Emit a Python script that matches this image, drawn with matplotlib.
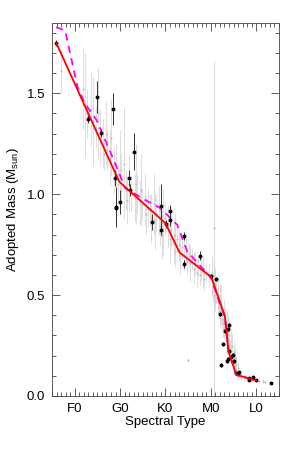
import numpy as np
import matplotlib
matplotlib.use('Agg')
import matplotlib.pyplot as plt
from matplotlib.ticker import MultipleLocator, FixedLocator

plt.rcParams['font.family'] = ['Liberation Sans', 'DejaVu Sans']

# spectral type as number: F0=20, G0=30, K0=40, M0=50, L0=60
tick_pos = [20, 30, 40, 50, 60]
tick_lab = ['F0', 'G0', 'K0', 'M0', 'L0']

# black points (spectral type, mass, error)
spt_b = [15.9, 23.0, 24.9, 25.9, 28.5, 28.9, 29.0, 29.1, 30.0, 32.0, 32.1, 33.0,
         37.1, 39.1, 40.1, 41.1, 41.1, 39.1, 44.1, 44.0, 47.6, 50.1, 51.1, 52.1,
         53.1, 53.7, 54.1, 52.7, 52.2, 54.1, 53.7, 54.4, 53.6, 54.9, 55.2, 55.6,
         55.9, 56.1, 58.3, 59.2, 58.3, 60.0, 63.2]
mass_b = [1.751, 1.373, 1.48, 1.302, 1.422, 1.082, 0.936, 0.93, 0.96, 1.079, 1.021, 1.211,
          0.864, 0.94, 0.853, 0.916, 0.87, 0.82, 0.794, 0.653, 0.696, 0.592, 0.579, 0.406,
          0.323, 0.332, 0.35, 0.257, 0.155, 0.221, 0.183, 0.191, 0.175, 0.204, 0.171, 0.114,
          0.109, 0.117, 0.079, 0.092, 0.09, 0.077, 0.062]
err_b = [0.015, 0.02, 0.08, 0.02, 0.08, 0.04, 0.10, 0.06, 0.06, 0.04, 0.03, 0.09,
         0.04, 0.11, 0.02, 0.03, 0.03, 0.02, 0.02, 0.02, 0.02, 0.01, 0.01, 0.01,
         0.01, 0.01, 0.01, 0.01, 0.01, 0.01, 0.01, 0.01, 0.01, 0.01, 0.01, 0.005,
         0.005, 0.005, 0.005, 0.005, 0.005, 0.005, 0.003]

# grey points
spt_g = [17.0, 21.8, 22.3, 22.8, 23.5, 24.1, 24.6, 25.2, 25.6, 26.2, 26.5, 26.8, 27.2,
         27.7, 28.1, 28.6, 29.2, 29.6, 29.9, 30.3, 30.8, 31.3, 31.6, 31.9, 32.5, 33.2,
         33.5, 33.8, 34.3, 34.6, 34.9, 35.5, 35.8, 36.1, 36.6, 36.9, 37.4, 37.8, 38.0,
         38.5, 38.7, 39.0, 39.2, 39.5, 40.0, 40.6, 41.0, 41.3, 41.8, 42.0, 42.2, 42.5,
         43.0, 43.2, 43.6, 44.0, 44.5, 44.8, 45.0, 45.2, 45.5, 45.8, 46.2, 46.5, 47.0,
         47.1, 47.5, 47.8, 48.3, 48.5, 49.0, 49.6, 50.8, 50.2, 50.3, 50.5, 50.7, 50.9,
         51.0, 51.2, 51.5, 51.6, 51.8, 52.0, 52.1, 52.3, 52.4, 52.7, 52.9, 53.0, 53.2,
         53.3, 53.5, 53.6, 53.8, 53.9, 54.1, 54.2, 54.4, 54.5, 54.7, 54.8, 55.0, 55.1,
         55.3, 55.5, 55.6, 55.9, 56.0, 56.6, 57.2, 58.0, 59.0, 60.5, 61.5, 62.0]
mass_g = [1.61, 1.52, 1.44, 1.40, 1.42, 1.36, 1.33, 1.40, 1.28, 1.25, 1.20, 1.30, 1.22,
          1.18, 1.28, 1.12, 1.10, 1.05, 1.12, 1.08, 1.15, 1.02, 0.97, 1.05, 1.00, 0.98,
          1.05, 1.00, 0.96, 1.02, 0.95, 0.97, 0.90, 0.93, 0.92, 0.88, 0.95, 0.87, 0.90,
          0.92, 0.84, 0.89, 0.80, 0.86, 0.88, 0.84, 0.78, 0.82, 0.76, 0.80, 0.72, 0.78,
          0.75, 0.70, 0.74, 0.70, 0.72, 0.67, 0.18, 0.70, 0.66, 0.68, 0.63, 0.66, 0.61,
          0.64, 0.60, 0.63, 0.62, 0.58, 0.61, 0.60, 0.83, 0.57, 0.60, 0.54, 0.56, 0.50,
          0.55, 0.52, 0.47, 0.50, 0.44, 0.47, 0.42, 0.45, 0.38, 0.36, 0.40, 0.33, 0.37,
          0.30, 0.34, 0.27, 0.32, 0.25, 0.30, 0.22, 0.27, 0.20, 0.25, 0.17, 0.22, 0.15,
          0.19, 0.13, 0.16, 0.14, 0.11, 0.10, 0.09, 0.085, 0.08, 0.075, 0.072, 0.07]
err_g = [0.11, 0.20, 0.26, 0.12, 0.18, 0.22, 0.10, 0.23, 0.14, 0.12, 0.08, 0.16, 0.10,
         0.14, 0.19, 0.12, 0.15, 0.10, 0.20, 0.12, 0.28, 0.10, 0.12, 0.14, 0.09, 0.12,
         0.20, 0.10, 0.11, 0.18, 0.08, 0.13, 0.10, 0.10, 0.08, 0.12, 0.15, 0.14, 0.09,
         0.12, 0.09, 0.10, 0.12, 0.16, 0.08, 0.10, 0.12, 0.09, 0.10, 0.10, 0.08, 0.07,
         0.08, 0.10, 0.06, 0.08, 0.07, 0.07, 0.01, 0.06, 0.09, 0.05, 0.08, 0.06, 0.07,
         0.05, 0.05, 0.06, 0.08, 0.06, 0.05, 0.06, 0.83, 0.08, 0.10, 0.07, 0.12, 0.08,
         0.09, 0.06, 0.07, 0.10, 0.06, 0.09, 0.08, 0.10, 0.06, 0.07, 0.08, 0.05, 0.07,
         0.06, 0.09, 0.06, 0.08, 0.05, 0.07, 0.05, 0.06, 0.04, 0.06, 0.04, 0.05, 0.03,
         0.05, 0.03, 0.04, 0.03, 0.02, 0.02, 0.02, 0.01, 0.01, 0.01, 0.008, 0.006]

# piecewise relation (red)
spt_fit = [15.9, 29.8, 40.0, 43.1, 50.1, 53.1, 53.9, 55.6, 60.0]
mass_fit = [1.751, 1.062, 0.856, 0.711, 0.589, 0.394, 0.22, 0.105, 0.077]

# dashed relation (magenta)
spt_dash = [15.9, 17.9, 20.6, 22.2, 24.8, 28.9, 31.1, 35.2, 38.9, 42.6, 44.8, 50.1,
            51.4, 53.1, 53.9, 55.6, 60.0]
mass_dash = [1.827, 1.81, 1.533, 1.45, 1.368, 1.153, 1.03, 0.975, 0.93, 0.848, 0.716,
             0.584, 0.493, 0.394, 0.22, 0.105, 0.077]

fig = plt.figure(figsize=(2.93, 4.5), dpi=100)
ax = fig.add_axes([0.1775, 0.12, 0.7745, 0.829])

ax.errorbar(spt_g, mass_g, yerr=err_g, fmt='o', ms=0.7, color='#c0c0c0',
            ecolor='#d2d2d2', elinewidth=0.7, capsize=0, alpha=0.75, zorder=1)
ax.plot(spt_dash, mass_dash, color='magenta', lw=1.3, dashes=(4, 3), zorder=2)
ax.errorbar(spt_b, mass_b, yerr=err_b, fmt='o', ms=1.8, color='black',
            ecolor='#333333', elinewidth=0.7, capsize=0, zorder=3)
ax.plot(spt_fit, mass_fit, color='red', lw=1.3, zorder=4)

ax.set_xlim(15, 65)
ax.set_ylim(0, 1.848)
ax.xaxis.set_major_locator(FixedLocator(tick_pos))
ax.set_xticklabels(tick_lab)
ax.xaxis.set_minor_locator(MultipleLocator(1))
ax.yaxis.set_major_locator(MultipleLocator(0.5))
ax.yaxis.set_minor_locator(MultipleLocator(0.1))
ax.tick_params(which='both', direction='in', top=True, right=True,
               width=0.6, color='#444444', labelsize=9.5)
ax.tick_params(which='major', length=6, pad=5)
ax.tick_params(which='minor', length=3)
for s in ax.spines.values():
    s.set_linewidth(0.6)
    s.set_color('#444444')

ax.set_xlabel('Spectral Type', fontsize=9.5, labelpad=1)
ax.set_ylabel('Adopted Mass (M$_{\\mathregular{sun}}$)', fontsize=9.5, labelpad=4)

fig.savefig('out.png', dpi=100)
